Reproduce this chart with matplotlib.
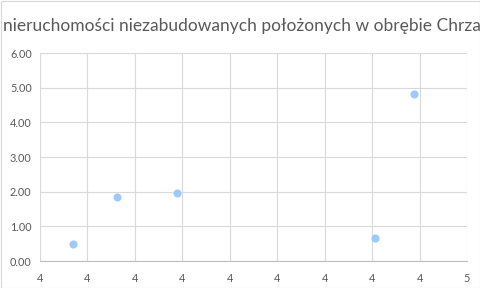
import matplotlib
matplotlib.use("Agg")
import matplotlib.pyplot as plt
from matplotlib.ticker import FuncFormatter, MultipleLocator
from matplotlib.patches import Rectangle

title = "nieruchomości niezabudowanych położonych w obrębie Chrza"
x_vals = [4.042, 4.098, 4.173, 4.424, 4.473]
y_vals = [0.50, 1.84, 1.97, 0.65, 4.83]
x_ticks = [4.0, 4.06, 4.12, 4.18, 4.24, 4.30, 4.36, 4.42, 4.48, 4.54]
y_min, y_max, y_step = 0.0, 6.0, 1.0

plt.rcParams['font.family'] = ['Lato', 'DejaVu Sans']
fig = plt.figure(figsize=(4.8, 2.88), dpi=100)
ax = fig.add_axes([40/480, 27/288, 427/480, 208/288])

ax.scatter(x_vals, y_vals, s=34, color='#9DC9FB', zorder=3, linewidths=0)

ax.set_xlim(x_ticks[0], x_ticks[-1])
ax.set_ylim(y_min, y_max)
ax.set_xticks(x_ticks)
ax.yaxis.set_major_locator(MultipleLocator(y_step))
ax.xaxis.set_major_formatter(FuncFormatter(lambda v, p: "%d" % int(v + 0.5 + 1e-9)))
ax.yaxis.set_major_formatter(FuncFormatter(lambda v, p: "%.2f" % v))
ax.grid(True, color='#D9D9D9', linewidth=0.8)
ax.set_axisbelow(True)
for s in ['top', 'right', 'left']:
    ax.spines[s].set_visible(False)
ax.spines['bottom'].set_color('#BFBFBF')
ax.spines['bottom'].set_linewidth(0.8)
ax.tick_params(length=0, labelsize=7.8, colors='#595959')
ax.tick_params(axis='y', pad=6)
ax.tick_params(axis='x', pad=9)

fig.text(3/480, 1 - 26/288, title, ha='left', va='center', fontsize=12.5, color='#595959')
fig.patches.append(Rectangle((0.5/480, 0.5/288), 1 - 1/480, 1 - 1/288, transform=fig.transFigure,
                             fill=False, edgecolor='#D9D9D9', linewidth=0.8))
fig.savefig("out.png", dpi=100)
